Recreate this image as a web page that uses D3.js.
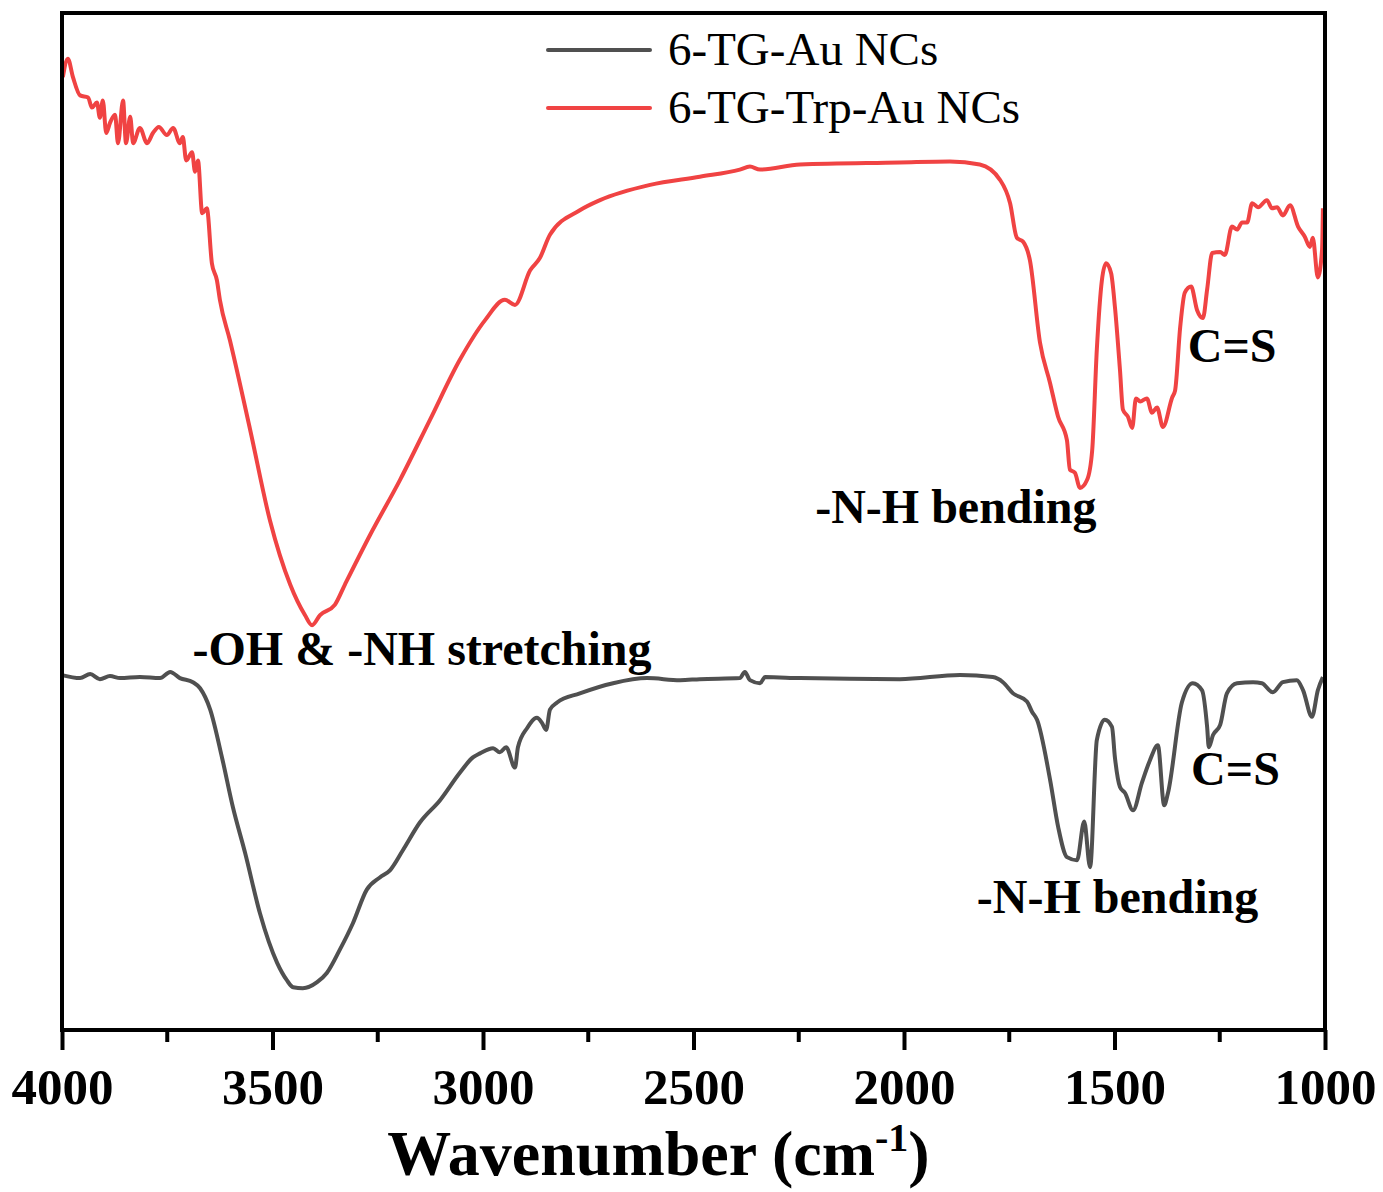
<!DOCTYPE html>
<html lang="en">
<head>
    <meta charset="UTF-8">
    <title>FTIR spectra</title>
    <script src="https://d3js.org/d3.v7.min.js"></script>
    <style>
        body { margin: 0; background: #fff; }
        text { font-family: "Liberation Serif", "Times New Roman", serif; fill: #000; }
        .tick-label { font-weight: bold; font-size: 51px; }
        .note { font-weight: bold; font-size: 48px; }
        .legend { font-size: 47px; }
    </style>
</head>
<body>
    <svg width="1383" height="1192"></svg>
    <script>
        // wavenumber (cm-1) and transmittance (a.u.)
        const tgWave = [4000, 3957, 3933, 3910, 3886, 3862, 3815, 3767, 3743, 3720, 3689, 3672, 3648, 3620, 3594, 3565, 3530, 3489, 3466, 3451, 3428, 3394, 3371, 3340, 3309, 3276, 3245, 3221, 3190, 3150, 3102, 3055, 3024, 3007, 2976, 2960, 2945, 2924, 2917, 2895, 2872, 2860, 2850, 2841, 2824, 2770, 2691, 2610, 2532, 2485, 2390, 2378, 2366, 2342, 2330, 2247, 2010, 1867, 1789, 1765, 1741, 1708, 1696, 1684, 1653, 1634, 1613, 1589, 1572, 1558, 1542, 1523, 1506, 1499, 1487, 1475, 1456, 1435, 1416, 1397, 1382, 1373, 1340, 1314, 1292, 1280, 1276, 1266, 1249, 1233, 1209, 1171, 1150, 1124, 1100, 1067, 1052, 1031, 1017, 1005];
        const tgValue = [34.9, 34.6, 35.0, 34.5, 34.8, 34.6, 34.7, 34.6, 35.2, 34.6, 34.2, 33.6, 31.5, 26.8, 21.9, 17.4, 11.5, 6.6, 4.9, 4.2, 4.1, 4.7, 5.6, 7.9, 10.5, 13.8, 15.0, 15.7, 17.7, 20.4, 22.6, 25.3, 26.8, 27.2, 27.7, 27.3, 27.8, 25.8, 27.8, 29.7, 30.7, 30.2, 29.5, 31.5, 32.2, 33.1, 34.1, 34.6, 34.4, 34.5, 34.6, 35.2, 34.4, 34.1, 34.7, 34.6, 34.5, 34.9, 34.7, 34.2, 33.1, 32.3, 31.3, 30.5, 24.6, 20.0, 17.0, 16.7, 20.5, 16.0, 28.5, 30.5, 29.8, 26.8, 23.9, 23.3, 21.6, 24.3, 26.5, 28.0, 22.1, 23.3, 32.2, 34.1, 33.4, 29.8, 27.8, 29.0, 30.0, 33.1, 34.1, 34.2, 34.1, 33.2, 34.2, 34.4, 33.4, 30.8, 33.4, 34.7];

        const trpWave = [3998, 3986, 3974, 3957, 3938, 3929, 3917, 3910, 3903, 3895, 3886, 3874, 3867, 3855, 3848, 3838, 3831, 3815, 3798, 3784, 3770, 3751, 3736, 3720, 3713, 3705, 3691, 3684, 3677, 3667, 3656, 3644, 3632, 3625, 3601, 3553, 3506, 3458, 3423, 3406, 3387, 3352, 3328, 3268, 3197, 3126, 3055, 2995, 2948, 2924, 2888, 2865, 2841, 2770, 2722, 2603, 2485, 2390, 2366, 2342, 2247, 2010, 1891, 1820, 1772, 1748, 1732, 1717, 1701, 1677, 1653, 1634, 1613, 1606, 1594, 1582, 1565, 1553, 1542, 1530, 1520, 1508, 1499, 1487, 1480, 1468, 1458, 1449, 1439, 1423, 1411, 1399, 1385, 1363, 1356, 1344, 1333, 1318, 1304, 1290, 1280, 1268, 1249, 1238, 1221, 1209, 1197, 1185, 1173, 1159, 1138, 1126, 1114, 1100, 1083, 1064, 1048, 1036, 1029, 1017, 1007, 1005];
        const trpValue = [93.7, 95.5, 93.7, 91.9, 91.7, 90.7, 91.2, 89.7, 91.4, 88.2, 89.2, 90.0, 87.2, 91.4, 87.2, 89.8, 87.2, 88.7, 87.2, 88.2, 88.8, 88.0, 88.7, 87.2, 87.8, 85.5, 86.3, 84.4, 85.5, 80.3, 80.8, 75.4, 73.7, 71.8, 67.8, 59.0, 50.1, 43.8, 40.8, 39.8, 40.8, 41.8, 43.8, 48.7, 54.1, 60.0, 65.9, 69.8, 71.8, 71.3, 74.7, 75.9, 78.2, 80.6, 81.6, 83.1, 83.9, 84.6, 84.9, 84.6, 85.1, 85.3, 85.4, 85.1, 83.6, 81.3, 77.9, 77.5, 75.7, 67.6, 63.6, 60.3, 58.0, 55.1, 54.8, 53.3, 54.1, 57.0, 66.9, 73.7, 75.4, 74.4, 71.1, 64.9, 61.0, 60.3, 59.2, 62.1, 61.8, 62.1, 60.7, 61.2, 59.3, 62.2, 62.9, 69.1, 72.5, 73.1, 70.8, 70.0, 72.8, 76.4, 76.5, 76.2, 79.0, 78.7, 79.4, 79.4, 81.3, 80.9, 81.6, 80.8, 80.9, 80.1, 81.1, 79.0, 78.0, 77.0, 77.9, 74.0, 76.7, 80.8];

        const xTicks = [4000, 3500, 3000, 2500, 2000, 1500, 1000];
        const xMinorTicks = [3750, 3250, 2750, 2250, 1750, 1250];
        const seriesNames = ["6-TG-Au NCs", "6-TG-Trp-Au NCs"];
        const seriesColors = ["#505050", "#f04343"];

        const margin = {top: 13, right: 58, bottom: 162, left: 62},
              width = 1383 - margin.left - margin.right,
              height = 1192 - margin.top - margin.bottom;

        const svg = d3.select("svg")
            .append("g")
            .attr("transform", `translate(${margin.left}, ${margin.top})`);

        const x = d3.scaleLinear().domain([4000, 1000]).range([0, width]);
        const y = d3.scaleLinear().domain([0, 100]).range([height, 0]);

        const line = d3.line()
            .x(d => x(d[0]))
            .y(d => y(d[1]))
            .curve(d3.curveMonotoneX);

        const series = [
            d3.zip(tgWave, tgValue),
            d3.zip(trpWave, trpValue)
        ];

        series.forEach((s, i) => {
            svg.append("path")
                .datum(s.slice().reverse())
                .attr("fill", "none")
                .attr("stroke", seriesColors[i])
                .attr("stroke-width", 4)
                .attr("stroke-linejoin", "round")
                .attr("d", line);
        });

        // frame
        svg.append("rect")
            .attr("width", width)
            .attr("height", height)
            .attr("fill", "none")
            .attr("stroke", "#000")
            .attr("stroke-width", 4);

        // bottom axis
        const xAxis = svg.append("g")
            .attr("transform", `translate(0, ${height})`)
            .call(d3.axisBottom(x).tickValues(xTicks).tickSize(20).tickPadding(18).tickFormat(d3.format("d")));
        xAxis.select(".domain").remove();
        xAxis.selectAll("line").attr("stroke-width", 4);
        xAxis.selectAll("text").attr("class", "tick-label").attr("font-family", null).attr("font-size", null);

        svg.append("g")
            .attr("transform", `translate(0, ${height})`)
            .selectAll("line")
            .data(xMinorTicks)
            .enter().append("line")
            .attr("x1", d => x(d)).attr("x2", d => x(d))
            .attr("y1", 0).attr("y2", 12)
            .attr("stroke", "#000").attr("stroke-width", 4);

        // axis title
        const title = svg.append("text")
            .attr("x", width / 2 - 35)
            .attr("y", height + 145)
            .attr("text-anchor", "middle")
            .style("font-weight", "bold")
            .style("font-size", "64px");
        title.append("tspan").text("Wavenumber (cm");
        title.append("tspan").attr("dy", -24).style("font-size", "40px").text("-1");
        title.append("tspan").attr("dy", 24).text(")");

        // legend
        const legend = svg.append("g");
        seriesNames.forEach((name, i) => {
            const ly = 37 + i * 58;
            legend.append("line")
                .attr("x1", 486).attr("x2", 588)
                .attr("y1", ly).attr("y2", ly)
                .attr("stroke", seriesColors[i])
                .attr("stroke-width", 4)
                .attr("stroke-linecap", "round");
            legend.append("text")
                .attr("class", "legend")
                .attr("x", 606)
                .attr("y", ly + 15)
                .text(name);
        });

        // peak annotations
        const notes = [
            {text: "-OH & -NH stretching", wn: 3690, v: 35.9},
            {text: "-N-H bending", wn: 2211, v: 49.9},
            {text: "C=S", wn: 1326, v: 65.7},
            {text: "-N-H bending", wn: 1827, v: 11.5},
            {text: "C=S", wn: 1318, v: 24.1}
        ];
        svg.selectAll(".note")
            .data(notes)
            .enter().append("text")
            .attr("class", "note")
            .attr("x", d => x(d.wn))
            .attr("y", d => y(d.v))
            .text(d => d.text);
    </script>
</body>
</html>
